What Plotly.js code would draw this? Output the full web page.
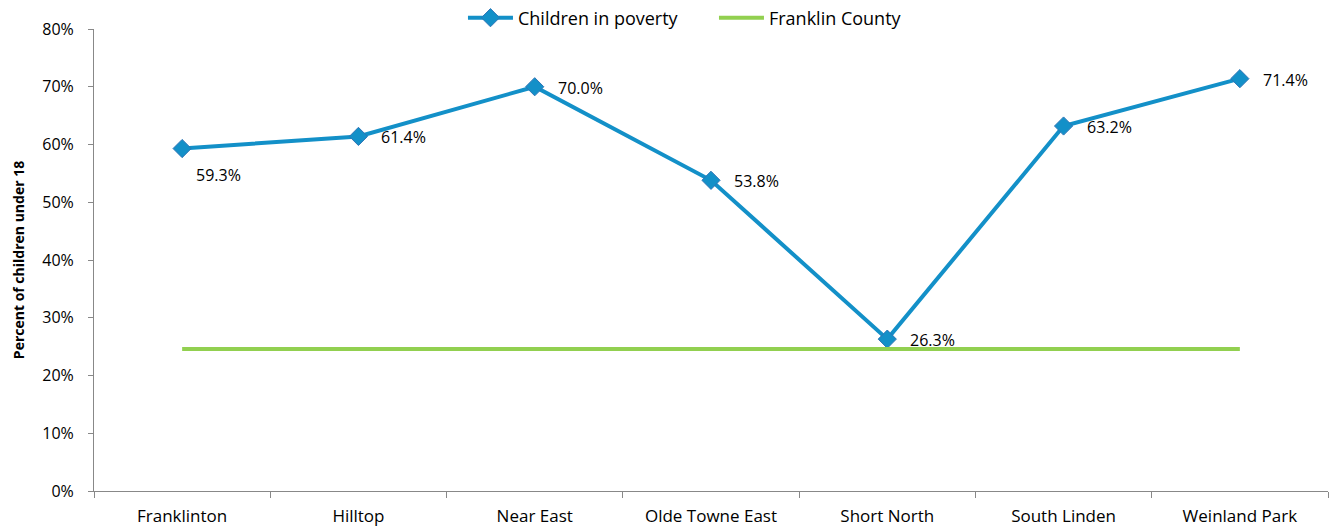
<!DOCTYPE html>
<html>
<head>
<meta charset="utf-8">
<script src="https://cdn.plot.ly/plotly-3.0.1.min.js"></script>
<style>html,body{margin:0;padding:0;background:#fff;}#chart{width:1330px;height:526px;}</style>
</head>
<body>
<div id="chart"></div>
<script>
var categories = ["Franklinton", "Hilltop", "Near East", "Olde Towne East", "Short North", "South Linden", "Weinland Park"];
var childrenInPoverty = [0.593, 0.614, 0.700, 0.538, 0.263, 0.632, 0.714];
var franklinCounty = [0.246, 0.246, 0.246, 0.246, 0.246, 0.246, 0.246];
var yTickVals = [0, 0.1, 0.2, 0.3, 0.4, 0.5, 0.6, 0.7, 0.8];

var font = "'Open Sans', 'DejaVu Sans', sans-serif";

var traces = [
  {
    x: categories, y: childrenInPoverty, name: "Children in poverty",
    type: "scatter", mode: "lines+markers",
    line: {color: "#1390C8", width: 4},
    marker: {symbol: "diamond", size: 14, color: "#1390C8", line: {color: "#2E75B6", width: 1}}
  },
  {
    x: categories, y: franklinCounty, name: "Franklin County",
    type: "scatter", mode: "lines",
    line: {color: "#92D050", width: 4}
  }
];

var annotations = categories.map(function(c, i) {
  var first = (i === 0);
  return {
    x: c, y: childrenInPoverty[i], xref: "x", yref: "y",
    text: (childrenInPoverty[i] * 100).toFixed(1) + "%",
    showarrow: false,
    xanchor: first ? "center" : "left",
    yanchor: "middle",
    xshift: first ? 36 : 21,
    yshift: first ? -26 : -1,
    font: {family: font, size: 16, color: "#000"}
  };
});

var layout = {
  width: 1330, height: 526,
  margin: {l: 94, r: 2, t: 29, b: 35, autoexpand: false},
  paper_bgcolor: "#fff", plot_bgcolor: "#fff",
  font: {family: font, size: 16, color: "#000"},
  showlegend: true,
  legend: {orientation: "h", x: 0.299, xanchor: "left", y: 1 - 18/526, yanchor: "middle", yref: "container",
           font: {family: font, size: 18}, traceorder: "normal", entrywidth: 191, itemwidth: 45},
  annotations: annotations,
  xaxis: {
    type: "category", range: [-0.5, 6.5], tickson: "boundaries",
    ticks: "outside", ticklen: 6, tickcolor: "#888",
    showline: true, linecolor: "#888", linewidth: 1,
    showgrid: false, zeroline: false,
    ticklabelstandoff: 10,
    tickfont: {family: font, size: 17}
  },
  yaxis: {
    range: [0, 0.8], tickvals: yTickVals, tickformat: ".0%",
    ticks: "outside", ticklen: 5, tickcolor: "#888",
    showline: true, linecolor: "#888", linewidth: 1,
    showgrid: false, zeroline: false,
    ticklabelstandoff: 11,
    tickfont: {family: font, size: 16},
    title: {text: "Percent of children under 18", font: {family: font, size: 14, weight: "bold"}, standoff: 14}
  }
};

Plotly.newPlot("chart", traces, layout, {displayModeBar: false, staticPlot: true});
</script>
</body>
</html>
